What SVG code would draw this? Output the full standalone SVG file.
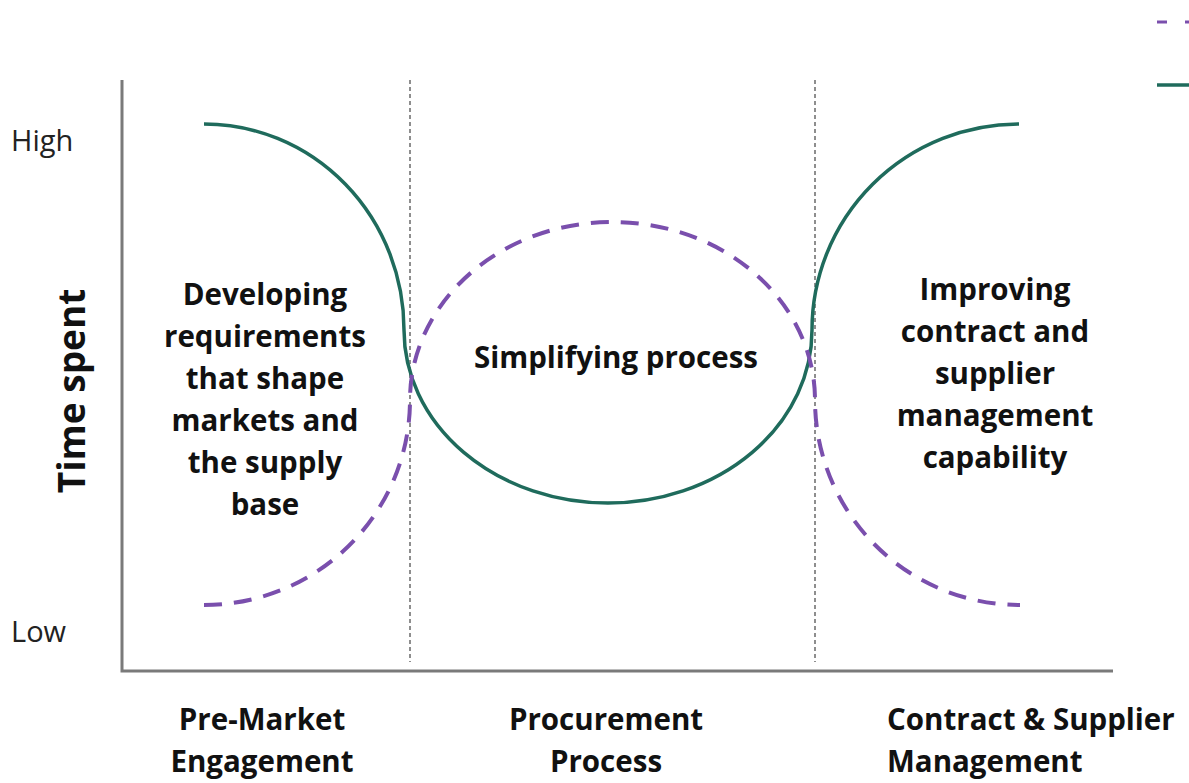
<svg xmlns="http://www.w3.org/2000/svg" width="1189" height="783" viewBox="0 0 1189 783">
<style>
.lbl{font-family:"Open Sans","Liberation Sans",sans-serif;font-weight:700;font-size:29.5px;fill:#111;text-anchor:middle}
.ax{font-family:"Open Sans","Liberation Sans",sans-serif;font-size:29px;fill:#222}
.green{fill:none;stroke:#1f6b5c;stroke-width:3.5}
.purple{fill:none;stroke:#7a4fad;stroke-width:4;stroke-dasharray:18 12}
.div{stroke:#444;stroke-width:1.2;stroke-dasharray:4 3}
.axis{stroke:#7a7a7a;stroke-width:3;fill:none}
</style>
<rect width="1189" height="783" fill="#fff"/>
<g id="axes">
<path class="axis" d="M122,80 V671 H1113"/>
<line class="div" x1="410" y1="80" x2="410" y2="662"/>
<line class="div" x1="815" y1="80" x2="815" y2="662"/>
</g>
<g id="legend">
<line x1="1157" y1="22" x2="1167" y2="22" stroke="#7a4fad" stroke-width="3"/>
<line x1="1185" y1="22" x2="1189" y2="22" stroke="#7a4fad" stroke-width="3"/>
<line x1="1157" y1="85" x2="1189" y2="85" stroke="#1f6b5c" stroke-width="3.5"/>
</g>
<g id="connectors">
<path class="green" d="M204,124 A200,206 0 0 1 404,330 A204,173 0 0 0 812,330 A207,206 0 0 1 1019,124"/>
<path class="purple" d="M204,605 A206,205 0 0 0 410,400 A202.5,178 0 0 1 815,400 A205,205 0 0 0 1020,605"/>
</g>
<g id="y-labels">
<text class="ax" x="11" y="151">High</text>
<text class="ax" x="11" y="642">Low</text>
<text class="lbl" transform="translate(85,391) rotate(-90)" style="font-size:37px">Time spent</text>
</g>
<g id="phase1">
<text class="lbl" x="265" y="305">Developing</text>
<text class="lbl" x="265" y="347">requirements</text>
<text class="lbl" x="265" y="389">that shape</text>
<text class="lbl" x="265" y="431">markets and</text>
<text class="lbl" x="265" y="473">the supply</text>
<text class="lbl" x="265" y="515">base</text>
</g>
<g id="phase2">
<text class="lbl" x="616" y="368">Simplifying process</text>
</g>
<g id="phase3">
<text class="lbl" x="995" y="300">Improving</text>
<text class="lbl" x="995" y="342">contract and</text>
<text class="lbl" x="995" y="384">supplier</text>
<text class="lbl" x="995" y="426">management</text>
<text class="lbl" x="995" y="468">capability</text>
</g>
<g id="x-labels">
<text class="lbl" x="262" y="730">Pre-Market</text>
<text class="lbl" x="262" y="772">Engagement</text>
<text class="lbl" x="606" y="730">Procurement</text>
<text class="lbl" x="606" y="772">Process</text>
<text class="lbl" x="887" y="730" style="text-anchor:start">Contract &amp; Supplier</text>
<text class="lbl" x="887" y="772" style="text-anchor:start">Management</text>
</g>
</svg>
